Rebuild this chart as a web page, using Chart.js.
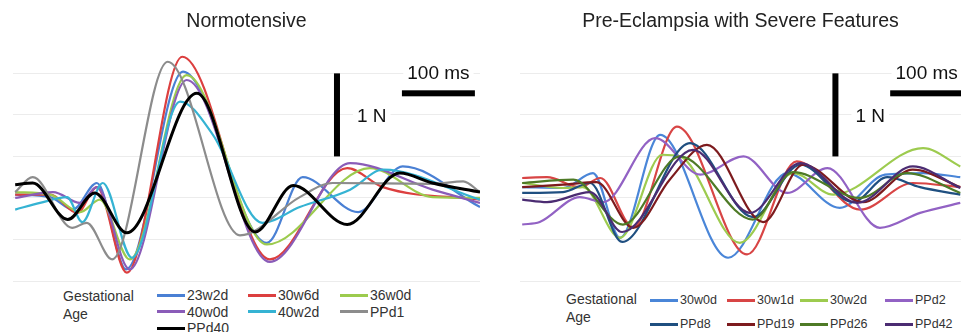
<!DOCTYPE html>
<html>
<head>
<meta charset="utf-8">
<script src="https://cdn.jsdelivr.net/npm/chart.js@4.4.1/dist/chart.umd.min.js"></script>
<style>
  body { margin: 0; width: 961px; height: 332px; position: relative; background: #fff; overflow: hidden; font-family: 'Liberation Sans', Arial, sans-serif; }
  .panel { position: absolute; top: 0; height: 285px; }
  .lgTitle { position: absolute; font-size: 14px; line-height: 18px; color: #333; }
  .lgItems { position: absolute; display: grid; color: #333; }
  .lgItem { display: flex; align-items: center; white-space: nowrap; }
  .lgItem span { display: inline-block; width: 28px; height: 3px; margin-right: 2px; }
</style>
</head>
<body>
<div class="panel" style="left:0;width:480px"><canvas id="normo" width="480" height="285"></canvas></div>
<div class="panel" style="left:480px;width:481px"><canvas id="pre" width="481" height="285"></canvas></div>

<div class="lgTitle" style="left:63px;top:287px">Gestational<br>Age</div>
<div class="lgItems" id="normoLegend" style="left:157px;top:287px;font-size:14px;grid-template-columns:91px 92px 91px;grid-auto-rows:16.5px"></div>
<div class="lgTitle" style="left:566px;top:290px">Gestational<br>Age</div>
<div class="lgItems" id="preLegend" style="left:650px;top:288px;font-size:12.5px;grid-template-columns:77px 73px 85px 70px;grid-auto-rows:24px"></div>

<script>
// ---- data: [time ms, force N] ----
// Normotensive
const n23w2d = [[3,0.04],[51,0.01],[82,-0.14],[115,0.18],[155,-0.86],[233,1.52],[348,-0.54],[397,0.25],[473,-0.17],[534,0.38],[640,-0.11]];
const n30w6d = [[3,0.04],[51,0.04],[88,-0.18],[115,0.13],[156,-0.90],[232,1.70],[352,-0.74],[458,0.36],[507,0.13],[640,-0.02]];
const n36w0d = [[3,0.07],[51,0.04],[92,-0.17],[119,-0.02],[160,-0.74],[238,1.48],[348,-0.56],[489,0.36],[575,0.01],[640,0.00]];
const n40w0d = [[3,0.00],[55,0.07],[92,-0.06],[115,0.13],[160,-0.86],[238,1.42],[352,-0.77],[462,0.42],[575,0.10],[640,-0.06]];
const n40w2d = [[3,-0.14],[37,-0.06],[74,0.01],[95,-0.29],[123,0.18],[163,-0.72],[229,1.16],[274,0.76],[342,-0.30],[393,-0.11],[462,0.10],[507,0.34],[640,-0.02]];
const nPPd1  = [[3,0.07],[27,0.25],[81,-0.36],[101,-0.30],[136,-0.74],[212,1.64],[311,-0.45],[393,0.01],[438,0.18],[575,0.17],[617,0.20],[640,0.07]];
const nPPd40 = [[3,0.16],[27,0.18],[75,-0.26],[112,0.06],[156,-0.42],[252,1.26],[332,-0.41],[384,0.15],[458,-0.32],[530,0.30],[575,0.18],[640,0.07]];

// Pre-eclampsia with severe features
const p30w0d = [[3,0.13],[59,0.12],[100,0.30],[137,-0.48],[192,0.76],[285,-0.72],[366,0.30],[438,-0.12],[500,0.28],[552,0.30],[603,0.25]];
const p30w1d = [[3,0.24],[37,0.25],[82,0.13],[110,0.24],[155,-0.35],[215,0.86],[311,-0.68],[379,0.44],[466,-0.14],[538,0.18],[603,0.13]];
const p30w2d = [[3,0.18],[59,0.12],[86,0.13],[137,-0.48],[195,0.52],[219,0.50],[301,-0.54],[374,0.30],[429,0.04],[552,0.60],[603,0.38]];
const pPPd2  = [[3,-0.32],[27,-0.29],[82,0.01],[114,-0.05],[185,0.72],[247,0.28],[306,0.50],[366,0.06],[421,0.36],[493,-0.36],[548,-0.18],[603,-0.06]];
const pPPd8  = [[3,0.06],[59,0.07],[96,0.18],[140,-0.53],[233,0.66],[319,-0.23],[384,0.40],[456,-0.05],[503,0.25],[548,0.13],[603,0.04]];
const pPPd19 = [[3,0.13],[59,0.16],[105,0.19],[155,-0.36],[205,0.22],[256,0.64],[333,-0.29],[388,0.40],[470,-0.05],[538,0.34],[603,0.13]];
const pPPd26 = [[3,0.18],[73,0.22],[141,-0.32],[219,0.50],[319,-0.26],[374,0.31],[466,0.00],[530,0.30],[603,0.06]];
const pPPd42 = [[3,-0.02],[37,-0.05],[96,0.07],[140,-0.41],[237,0.58],[315,-0.18],[384,0.42],[462,-0.06],[538,0.38],[603,0.12]];

const normoLabels = ['23w2d', '30w6d', '36w0d', '40w0d', '40w2d', 'PPd1', 'PPd40'];
const normoSeries = [n23w2d, n30w6d, n36w0d, n40w0d, n40w2d, nPPd1, nPPd40];
const normoColors = ['#4a80d4', '#dc3f3f', '#9ccb4e', '#8a5cb8', '#35b3d3', '#8c8c8c', '#000000'];

const preLabels = ['30w0d', '30w1d', '30w2d', 'PPd2', 'PPd8', 'PPd19', 'PPd26', 'PPd42'];
const preSeries = [p30w0d, p30w1d, p30w2d, pPPd2, pPPd8, pPPd19, pPPd26, pPPd42];
const preColors = ['#4a86d8', '#d84545', '#9dcb4f', '#9262c4', '#1f4f80', '#7d1b1e', '#4e7a26', '#4b2c72'];

// scale bars: 1 N vertical, 100 ms horizontal (in data units)
const normoBars = { vx: 444, vy: [0.5, 1.5], hy: 1.26, hx: [533, 633] };
const preBars = { vx: 432, vy: [0.5, 1.5], hy: 1.26, hx: [507, 607] };

const scaleBars = {
  id: 'scaleBars',
  beforeDatasetsDraw(chart, args, opts) {
    const { ctx } = chart;
    const x = chart.scales.x, y = chart.scales.y;
    ctx.save();
    ctx.font = '19px "Liberation Sans", Arial, sans-serif';
    ctx.textBaseline = 'middle';
    // 1 N label
    const vx = x.getPixelForValue(opts.vx);
    const vTop = y.getPixelForValue(opts.vy[1]);
    const vBot = y.getPixelForValue(opts.vy[0]);
    const nW = ctx.measureText('1 N').width;
    ctx.fillStyle = '#fff';
    ctx.fillRect(vx + 16, (vTop + vBot) / 2 - 12, nW + 8, 24);
    ctx.fillStyle = '#111';
    ctx.fillText('1 N', vx + 20, (vTop + vBot) / 2 + 2);
    // 100 ms label
    const hx0 = x.getPixelForValue(opts.hx[0]);
    const hx1 = x.getPixelForValue(opts.hx[1]);
    const hy = y.getPixelForValue(opts.hy);
    const mW = ctx.measureText('100 ms').width;
    const mx = Math.min((hx0 + hx1) / 2 - mW / 2, chart.width - mW - 1);
    ctx.fillStyle = '#fff';
    ctx.fillRect(mx - 4, hy - 33, mW + 8, 26);
    ctx.fillStyle = '#111';
    ctx.fillText('100 ms', mx, hy - 20);
    // bars
    ctx.fillStyle = '#000';
    ctx.fillRect(vx - 3, vTop, 6, vBot - vTop);
    ctx.fillRect(hx0, hy - 3, hx1 - hx0, 6);
    ctx.restore();
  }
};

function makeChart(id, title, series, labels, colors, xMax, padLeft, bars) {
  const datasets = series.map((s, i) => ({
    label: labels[i],
    data: s.map(p => ({ x: p[0], y: p[1] })),
    borderColor: colors[i],
    borderWidth: colors[i] === '#000000' ? 3 : 2.2,
    pointRadius: 0,
    fill: false,
    cubicInterpolationMode: 'monotone',
    order: series.length - i
  }));
  if (id === 'normo') datasets[datasets.length - 1].order = 0;
  return new Chart(document.getElementById(id), {
    type: 'line',
    data: { datasets },
    options: {
      responsive: false,
      animation: false,
      devicePixelRatio: 1,
      layout: { padding: { left: padLeft, right: 0, top: 0, bottom: 4 } },
      plugins: {
        legend: { display: false },
        tooltip: { enabled: false },
        title: {
          display: true,
          text: title,
          color: '#222',
          font: { family: "'Liberation Sans', Arial, sans-serif", size: 19.5, weight: 'normal' },
          padding: { top: 10, bottom: 2.6 }
        },
        scaleBars: bars
      },
      scales: {
        x: { type: 'linear', min: 0, max: xMax, display: false },
        y: {
          type: 'linear', min: -1.0, max: 1.95,
          border: { display: false },
          grid: { color: '#ececec', lineWidth: 1, drawTicks: false },
          ticks: { display: false, stepSize: 0.5, includeBounds: false },
          afterFit: s => { s.width = 0; }
        }
      }
    },
    plugins: [scaleBars]
  });
}

makeChart('normo', 'Normotensive', normoSeries, normoLabels, normoColors, 640, 13, normoBars);
makeChart('pre', 'Pre-Eclampsia with Severe Features', preSeries, preLabels, preColors, 604, 40, preBars);

function buildLegend(elId, labels, colors) {
  const el = document.getElementById(elId);
  labels.forEach((lab, i) => {
    const item = document.createElement('div');
    item.className = 'lgItem';
    item.innerHTML = '<span style="background:' + colors[i] + '"></span>' + lab;
    el.appendChild(item);
  });
}
buildLegend('normoLegend', normoLabels, normoColors);
buildLegend('preLegend', preLabels, preColors);
</script>
</body>
</html>
